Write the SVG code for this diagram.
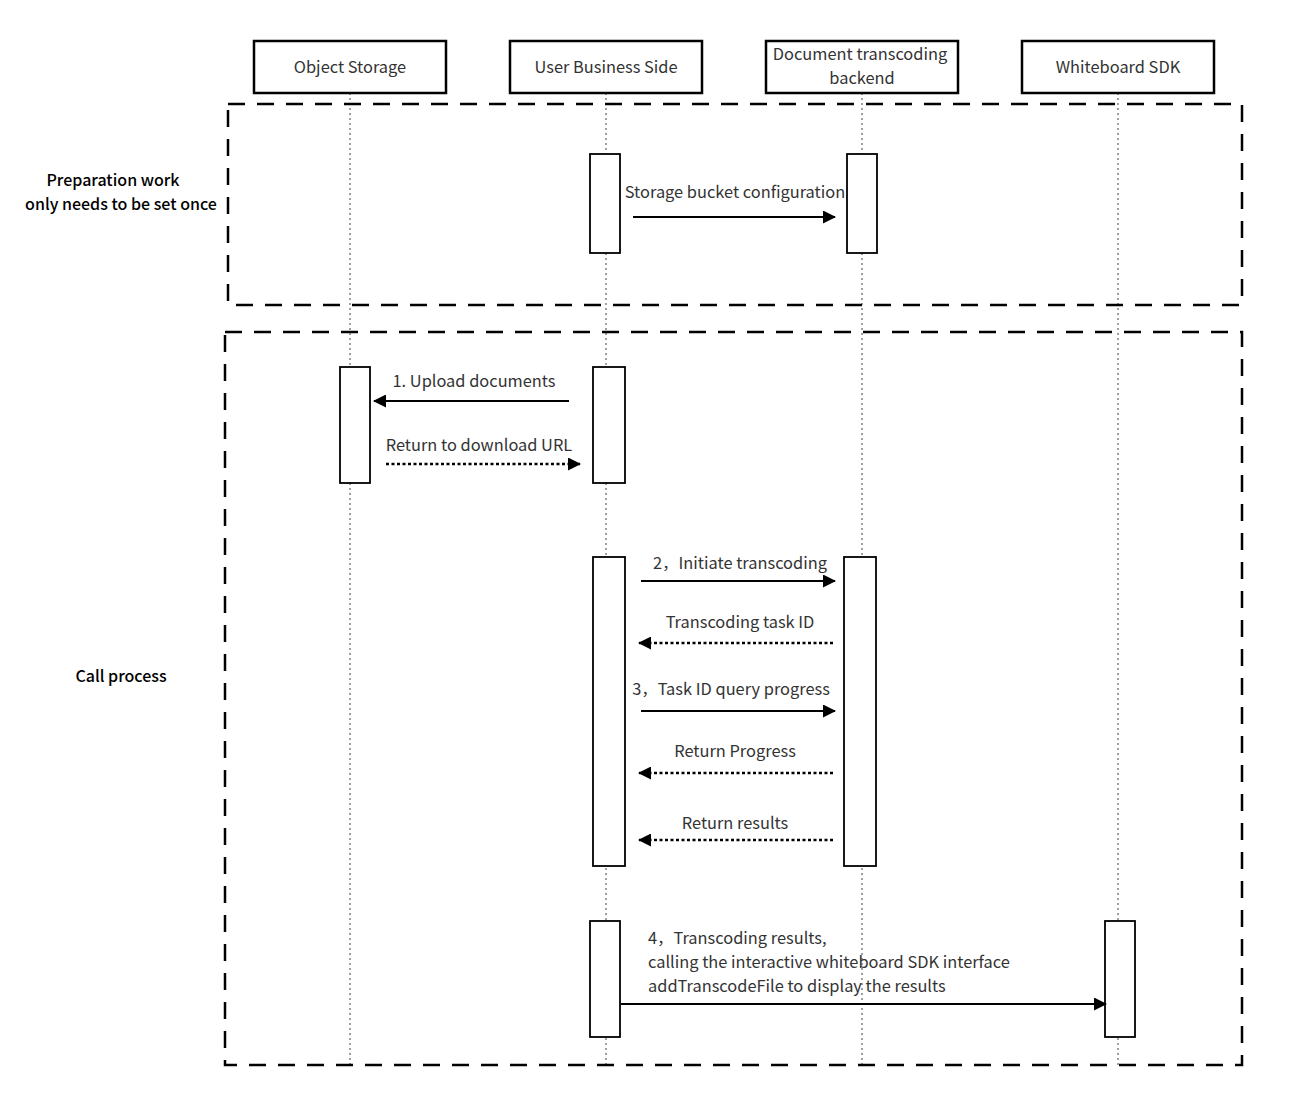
<svg xmlns="http://www.w3.org/2000/svg" width="1292" height="1107" viewBox="0 0 1292 1107">
<style>
.hdr{fill:#fff;stroke:#000;stroke-width:2.5}
.act{fill:#fff;stroke:#000;stroke-width:1.8}
.life{stroke:#888;stroke-width:1.6;stroke-dasharray:2 3;fill:none}
.frame{fill:none;stroke:#000;stroke-width:2.5;stroke-dasharray:17 12}
.t{font-family:"Noto Sans CJK SC","Noto Sans",sans-serif;font-size:16.4px;fill:#333}
.b{font-weight:500;fill:#000;font-size:16px}
.msg{stroke:#000;stroke-width:2.2;fill:none}
.ret{stroke:#000;stroke-width:2.5;stroke-dasharray:3 2.5;fill:none}
</style>
<defs>
<marker id="ah2" markerWidth="13" markerHeight="13" refX="12" refY="6.5" orient="auto" markerUnits="userSpaceOnUse" viewBox="0 0 13 13">
<path d="M0,0 L13,6.5 L0,13 Z" fill="#000"/>
</marker>
</defs>
<rect width="1292" height="1107" fill="#fff"/>
<g id="lifelines">
<line class="life" x1="350" y1="93" x2="350" y2="1068"/>
<line class="life" x1="606" y1="93" x2="606" y2="1068"/>
<line class="life" x1="862" y1="93" x2="862" y2="1068"/>
<line class="life" x1="1118" y1="93" x2="1118" y2="1068"/>
</g>
<g id="frames">
<rect class="frame" x="228" y="104" width="1014" height="201"/>
<rect class="frame" x="225" y="332" width="1017" height="733"/>
<text class="t b" x="113" y="186" text-anchor="middle">Preparation work</text>
<text class="t b" x="121" y="210" text-anchor="middle">only needs to be set once</text>
<text class="t b" x="121" y="682" text-anchor="middle">Call process</text>
</g>
<g id="object-storage">
<rect class="hdr" x="254" y="41" width="192" height="52"/>
<text class="t" x="350" y="73" text-anchor="middle">Object Storage</text>
</g>
<g id="user-business-side">
<rect class="hdr" x="510" y="41" width="192" height="52"/>
<text class="t" x="606" y="73" text-anchor="middle">User Business Side</text>
</g>
<g id="transcoding-backend">
<rect class="hdr" x="766" y="41" width="192" height="52"/>
<text class="t" x="860" y="60" text-anchor="middle">Document transcoding</text>
<text class="t" x="862" y="84" text-anchor="middle">backend</text>
</g>
<g id="whiteboard-sdk">
<rect class="hdr" x="1022" y="41" width="192" height="52"/>
<text class="t" x="1118" y="73" text-anchor="middle">Whiteboard SDK</text>
</g>
<g id="activations">
<rect class="act" x="590" y="154" width="30" height="99"/>
<rect class="act" x="847" y="154" width="30" height="99"/>
<rect class="act" x="340" y="367" width="30" height="116"/>
<rect class="act" x="593" y="367" width="32" height="116"/>
<rect class="act" x="593" y="557" width="32" height="309"/>
<rect class="act" x="844" y="557" width="32" height="309"/>
<rect class="act" x="590" y="921" width="30" height="116"/>
<rect class="act" x="1105" y="921" width="30" height="116"/>
</g>
<g id="connectors">
<line class="msg" x1="633" y1="217" x2="835" y2="217" marker-end="url(#ah2)"/>
<text class="t" x="735" y="198" text-anchor="middle">Storage bucket configuration</text>
<line class="msg" x1="569" y1="401" x2="374" y2="401" marker-end="url(#ah2)"/>
<text class="t" x="474" y="387" text-anchor="middle">1. Upload documents</text>
<line class="ret" x1="386" y1="464" x2="580" y2="464" marker-end="url(#ah2)"/>
<text class="t" x="479" y="451" text-anchor="middle">Return to download URL</text>
<line class="msg" x1="641" y1="581" x2="835" y2="581" marker-end="url(#ah2)"/>
<text class="t" x="740" y="569" text-anchor="middle">2，Initiate transcoding</text>
<line class="ret" x1="833" y1="643" x2="639" y2="643" marker-end="url(#ah2)"/>
<text class="t" x="740" y="628" text-anchor="middle">Transcoding task ID</text>
<line class="msg" x1="641" y1="711" x2="835" y2="711" marker-end="url(#ah2)"/>
<text class="t" x="731" y="695" text-anchor="middle">3，Task ID query progress</text>
<line class="ret" x1="833" y1="773" x2="639" y2="773" marker-end="url(#ah2)"/>
<text class="t" x="735" y="757" text-anchor="middle">Return Progress</text>
<line class="ret" x1="833" y1="840" x2="639" y2="840" marker-end="url(#ah2)"/>
<text class="t" x="735" y="829" text-anchor="middle">Return results</text>
<line class="msg" x1="621" y1="1004" x2="1106" y2="1004" marker-end="url(#ah2)"/>
<text class="t" x="648" y="944">4，Transcoding results,</text>
<text class="t" x="648" y="968">calling the interactive whiteboard SDK interface</text>
<text class="t" x="648" y="992">addTranscodeFile to display the results</text>
</g>
</svg>
